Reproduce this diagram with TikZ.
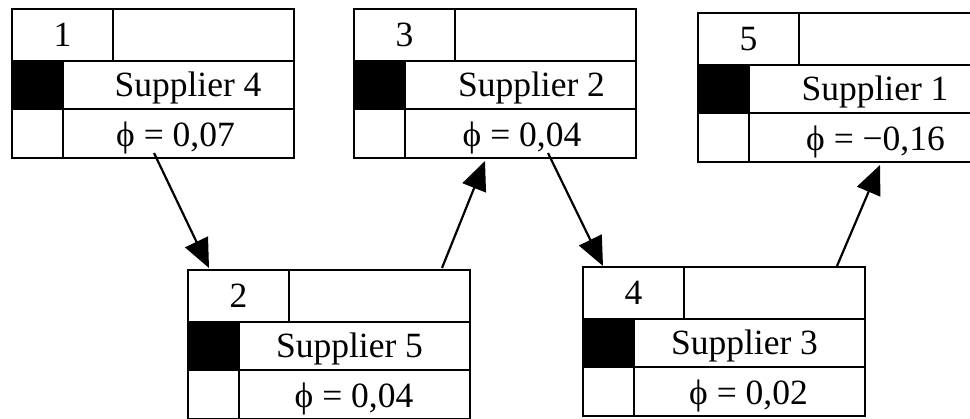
\documentclass[tikz,border=0pt]{standalone}
\usepackage{fontspec}
\setmainfont{Liberation Serif}
\usetikzlibrary{calc,arrows.meta}
\tikzset{
  frame/.style={draw, line width=2.2pt, minimum width=282pt, minimum height=149pt, inner sep=0pt, outer sep=0pt, anchor=north west},
  rule/.style={line width=2.2pt},
  txt/.style={anchor=base, inner sep=0pt, font=\fontsize{35.5}{40}\selectfont},
  arr/.style={line width=2.2pt, -{Triangle[length=29pt, width=25pt]}}
}
\newcommand\recbox[8]{%
  \node[frame] (#1) at (#2,#3) {};
  \fill ($(#1.north west)+(0,52)$) rectangle ++(51,48);
  \draw[rule] ($(#1.north west)+(0,52)$) -- ++(282,0);
  \draw[rule] ($(#1.north west)+(0,100)$) -- ++(282,0);
  \draw[rule] ($(#1.north west)+(101,0)$) -- ++(0,52);
  \draw[rule] ($(#1.north west)+(51,52)$) -- ++(0,97);
  \node[txt] (#1num) at ($(#1.north west)+(50.5,38)$) {#4};
  \node[txt] (#1sup) at ($(#1.north west)+(166.5+#6,88)$) {#5};
  \node[txt] (#1phi) at ($(#1.north west)+(166.5+#8,138)$) {#7};
}
\begin{document}
\begin{tikzpicture}[x=1pt,y=-1pt]
\fill[white] (0,0) rectangle (970,419);
\useasboundingbox (0,0) rectangle (970,419);
\clip (0,0) rectangle (970,419);
\recbox{b1}{12}{9}{1}{Supplier 4}{9.5}{ϕ = 0,07}{-3}
\recbox{b3}{354}{9}{3}{Supplier 2}{11}{ϕ = 0,04}{1.5}
\recbox{b5}{698}{13}{5}{Supplier 1}{10.5}{ϕ = −0,16}{11}
\recbox{b2}{188}{270}{2}{Supplier 5}{-5}{ϕ = 0,04}{-0.5}
\recbox{b4}{583}{267}{4}{Supplier 3}{-5}{ϕ = 0,02}{-1}
\coordinate (s12) at ($(b1.north west)+(142,144)$);
\coordinate (e12) at ($(b2.north west)+(21,-2)$);
\coordinate (s23) at ($(b2.north west)+(254,-2)$);
\coordinate (e23) at ($(b3.north west)+(131,152)$);
\coordinate (s34) at ($(b3.north west)+(194,144)$);
\coordinate (e34) at ($(b4.north west)+(20,-1)$);
\coordinate (s45) at ($(b4.north west)+(254,-1)$);
\coordinate (e45) at ($(b5.north west)+(182,152)$);
\draw[arr] (s12) -- (e12);
\draw[arr] (s23) -- (e23);
\draw[arr] (s34) -- (e34);
\draw[arr] (s45) -- (e45);
\end{tikzpicture}
\end{document}
